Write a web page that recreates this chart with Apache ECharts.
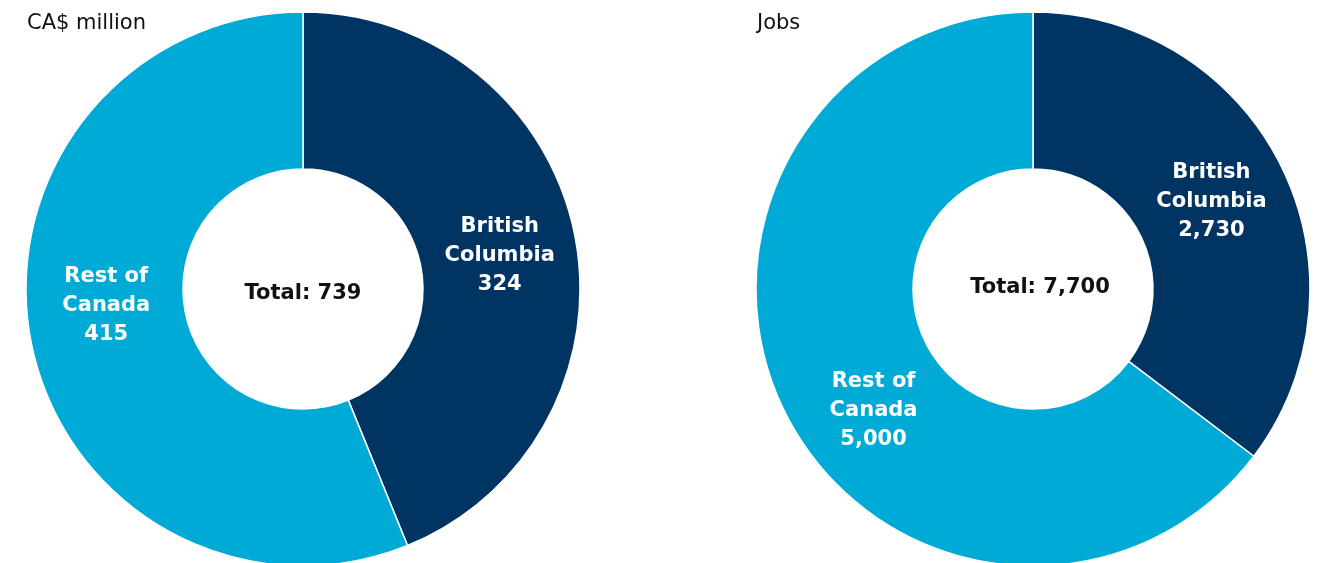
<!DOCTYPE html>
<html>
<head>
<meta charset="utf-8">
<script src="https://cdn.jsdelivr.net/npm/echarts@6/dist/echarts.min.js"></script>
<style>
  html, body { margin: 0; padding: 0; background: #fff; }
  #chart { width: 1326px; height: 563px; }
</style>
</head>
<body>
<div id="chart"></div>
<script>
// data
const regions = ['British\nColumbia', 'Rest of\nCanada']
const gdpValues = [324, 415]
const gdpLabels = ['324', '415']
const gdpTotal = '739'
const jobValues = [2730, 5000]
const jobLabels = ['2,730', '5,000']
const jobTotal = '7,700'
const panelTitles = ['CA$ million', 'Jobs']

const colors = ['#003462', '#00AAD7']
const font = 'DejaVu Sans'

const chart = echarts.init(document.getElementById('chart'))

// build pie data items
const makeData = (values, labels) => values.map((v, i) => ({
  name: regions[i],
  value: v,
  label: { formatter: regions[i] + '\n' + labels[i] }
}))

// label nudges per slice (the original places them by hand)
const nudgeLeft = [[-1, 5], [1, -22]]
const nudgeRight = [[-2, 2], [21, 32]]

const pieBase = {
  type: 'pie',
  radius: [120, 277],
  startAngle: 90,
  clockwise: true,
  silent: true,
  animation: false,
  itemStyle: { borderColor: '#fff', borderWidth: 1.5 },
  label: {
    show: true,
    position: 'inside',
    color: '#fff',
    fontFamily: font,
    fontWeight: 'bold',
    fontSize: 21,
    lineHeight: 29,
    align: 'center'
  },
  labelLine: { show: false }
}

const option = {
  color: colors,
  title: [
    {
      text: panelTitles[0], left: 22, top: 8,
      textStyle: { fontFamily: font, fontWeight: 'normal', fontSize: 21, color: '#111' }
    },
    {
      text: panelTitles[1], left: 752, top: 8,
      textStyle: { fontFamily: font, fontWeight: 'normal', fontSize: 21, color: '#111' }
    },
    {
      text: 'Total: ' + gdpTotal, left: 298, top: 289, textAlign: 'center', textVerticalAlign: 'middle',
      textStyle: { fontFamily: font, fontWeight: 'bold', fontSize: 21, color: '#111' }
    },
    {
      text: 'Total: ' + jobTotal, left: 1035, top: 283, textAlign: 'center', textVerticalAlign: 'middle',
      textStyle: { fontFamily: font, fontWeight: 'bold', fontSize: 21, color: '#111' }
    }
  ],
  series: [
    Object.assign({}, pieBase, {
      center: [303, 289],
      data: makeData(gdpValues, gdpLabels),
      labelLayout: (p) => ({ dx: nudgeLeft[p.dataIndex][0], dy: nudgeLeft[p.dataIndex][1] })
    }),
    Object.assign({}, pieBase, {
      center: [1033, 289],
      data: makeData(jobValues, jobLabels),
      labelLayout: (p) => ({ dx: nudgeRight[p.dataIndex][0], dy: nudgeRight[p.dataIndex][1] })
    })
  ]
}

chart.setOption(option)
</script>
</body>
</html>
